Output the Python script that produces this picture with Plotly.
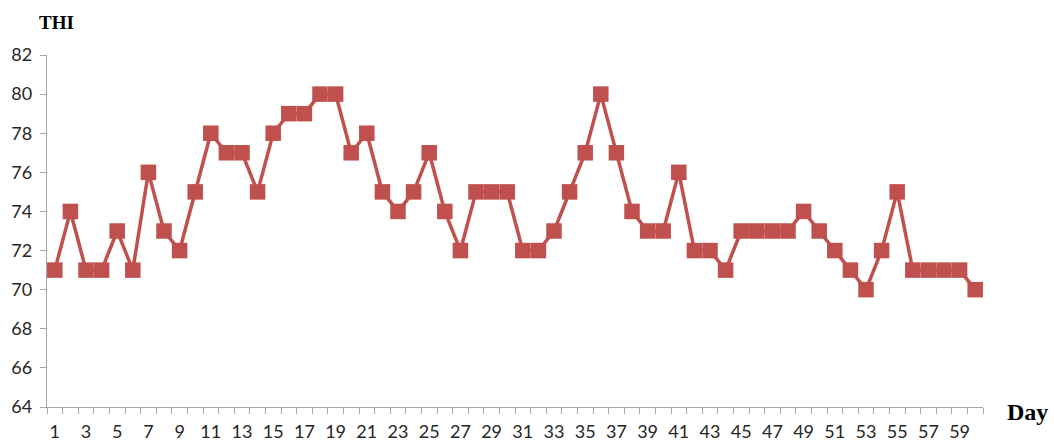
import plotly.graph_objects as go

# Daily temperature-humidity index over 60 days
days = list(range(1, 61))
thi = [71, 74, 71, 71, 73, 71, 76, 73, 72, 75,
       78, 77, 77, 75, 78, 79, 79, 80, 80, 77,
       78, 75, 74, 75, 77, 74, 72, 75, 75, 75,
       72, 72, 73, 75, 77, 80, 77, 74, 73, 73,
       76, 72, 72, 71, 73, 73, 73, 73, 74, 73,
       72, 71, 70, 72, 75, 71, 71, 71, 71, 70]

x_labels = [d for d in days if d % 2 == 1]
y_ticks = list(range(64, 83, 2))
boundaries = [d + 0.5 for d in range(0, 61)]

red = "#C0504D"
axis_grey = "#A6A6A6"
label_font = dict(family="Lato, Noto Sans, sans-serif", size=18, color="#262626")

fig = go.Figure()
fig.add_trace(go.Scatter(
    x=days, y=thi, mode="lines+markers",
    line=dict(color=red, width=3.5),
    marker=dict(symbol="square", size=15.5, color=red, line=dict(width=0)),
    showlegend=False, hoverinfo="x+y",
))
# invisible trace binding the boundary-tick axis
fig.add_trace(go.Scatter(x=[0.5, 60.5], y=[64, 64], xaxis="x2", mode="lines",
                         line=dict(width=0), showlegend=False, hoverinfo="skip"))

fig.update_layout(
    width=1054, height=442,
    margin=dict(l=47, r=71, t=55, b=35),
    paper_bgcolor="white", plot_bgcolor="white",
    xaxis=dict(
        range=[0.5, 60.5], tickmode="array", tickvals=x_labels,
        ticktext=[str(v) for v in x_labels], ticks="", showgrid=False,
        zeroline=False, showline=True, linecolor=axis_grey, linewidth=1.3,
        tickfont=label_font, ticklabelstandoff=8, automargin=False,
    ),
    xaxis2=dict(
        range=[0.5, 60.5], overlaying="x", anchor="y", side="bottom",
        tickmode="array", tickvals=boundaries, ticks="outside", ticklen=6,
        tickcolor=axis_grey, tickwidth=1.3, showticklabels=False,
        showgrid=False, zeroline=False, showline=False, automargin=False,
    ),
    yaxis=dict(
        range=[64, 82], tickmode="array", tickvals=y_ticks,
        ticks="outside", ticklen=6, tickcolor=axis_grey, tickwidth=1.3,
        showgrid=False, zeroline=False, showline=True, linecolor=axis_grey,
        linewidth=1.3, tickfont=label_font, ticklabelstandoff=4,
        automargin=False,
    ),
    annotations=[
        dict(text="<b>THI</b>", x=37, y=22, xref="paper", yref="paper",
             showarrow=False, xanchor="left", yanchor="middle",
             font=dict(family="Liberation Serif, serif", size=19, color="black")),
        dict(text="<b>Day</b>", x=1005, y=412, xref="paper", yref="paper",
             showarrow=False, xanchor="left", yanchor="middle",
             font=dict(family="Liberation Serif, serif", size=24, color="black")),
    ],
)

# place the two titles in pixel coordinates
plot_w = 1054 - 47 - 71
plot_h = 442 - 55 - 35
for ann in fig.layout.annotations:
    ann.x = (ann.x - 47) / plot_w
    ann.y = (442 - 35 - ann.y) / plot_h

fig.write_html("out.html")
